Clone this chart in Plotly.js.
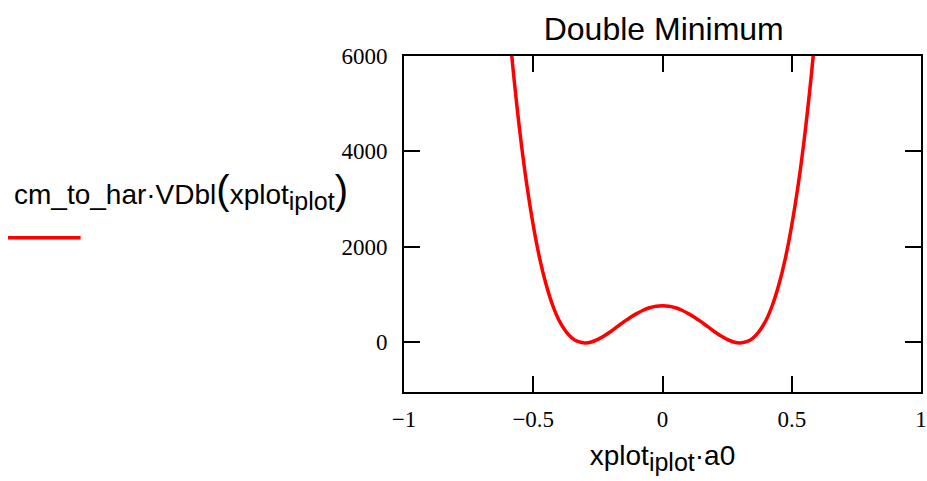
<!DOCTYPE html>
<html>
<head>
<meta charset="utf-8">
<script src="https://cdn.plot.ly/plotly-3.0.1.min.js"></script>
<style>html,body{margin:0;padding:0;background:#fff;}#chart{width:927px;height:481px;}</style>
</head>
<body>
<div id="chart"></div>
<script>
// x values (xplot·a0) and potential values (cm_to_har·VDbl)
var xVals = [-0.6, -0.575, -0.55, -0.525, -0.5, -0.475, -0.45, -0.425, -0.4, -0.375, -0.35, -0.325, -0.3, -0.275, -0.25, -0.225, -0.2, -0.175, -0.15, -0.125, -0.1, -0.075, -0.05, -0.025, 0,
             0.025, 0.05, 0.075, 0.1, 0.125, 0.15, 0.175, 0.2, 0.225, 0.25, 0.275, 0.3, 0.325, 0.35, 0.375, 0.4, 0.425, 0.45, 0.475, 0.5, 0.525, 0.55, 0.575, 0.6];
var vVals = [7000, 5560, 4330, 3300, 2450, 1750, 1200, 770, 450, 230, 80, 5, -20, 0, 55, 130, 220, 320, 420, 515, 595, 665, 718, 750, 760,
             750, 718, 665, 595, 515, 420, 320, 220, 130, 55, 0, -20, 5, 80, 230, 450, 770, 1200, 1750, 2450, 3300, 4330, 5560, 7000];
var xTicks = [-1, -0.5, 0, 0.5, 1];
var yTicks = [0, 2000, 4000, 6000];
var chartTitle = 'Double Minimum';
var xTitle = 'xplot<sub><span style="font-size:25px">iplot</span></sub>·a0';
var seriesName = 'cm_to_har·VDbl<span style="font-size:40px">(</span>xplot<sub><span style="font-size:25px">iplot</span></sub><span style="font-size:40px">)</span>';

var trace = {
  x: xVals, y: vVals, type: 'scatter', mode: 'lines',
  line: {color: '#ff0000', width: 3.5, shape: 'spline', smoothing: 1},
  showlegend: false, hoverinfo: 'skip'
};

var axisCommon = {
  showline: true, linecolor: '#000', linewidth: 2, mirror: 'allticks',
  ticks: 'inside', ticklen: 16, tickwidth: 2, tickcolor: '#000',
  showgrid: false, zeroline: false,
  tickfont: {family: 'Liberation Serif, Times New Roman, serif', size: 23, color: '#000'}
};

var layout = {
  width: 927, height: 481,
  margin: {l: 404, r: 6, t: 56, b: 89, pad: 0},
  paper_bgcolor: '#fff', plot_bgcolor: '#fff',
  title: {text: chartTitle, x: 0.716, xanchor: 'center', y: 0.94, yanchor: 'middle',
          font: {family: 'Liberation Sans, Arial, sans-serif', size: 32, color: '#000'}},
  xaxis: Object.assign({}, axisCommon, {
    range: [-1, 1], tickmode: 'array', tickvals: xTicks, ticklabelstandoff: 5,
    title: {text: xTitle, standoff: 15, font: {family: 'Liberation Sans, Arial, sans-serif', size: 28, color: '#000'}}
  }),
  yaxis: Object.assign({}, axisCommon, {
    range: [-1050, 6000], tickmode: 'array', tickvals: yTicks, ticklabelstandoff: 10
  }),
  annotations: [{
    xref: 'paper', yref: 'paper', x: -0.758, y: 0.598, xanchor: 'left', yanchor: 'middle',
    text: seriesName, showarrow: false,
    font: {family: 'Liberation Sans, Arial, sans-serif', size: 28, color: '#000'}
  }],
  shapes: [{
    type: 'line', xref: 'paper', yref: 'paper',
    x0: -0.766, x1: -0.6255, y0: 0.459, y1: 0.459,
    line: {color: '#ff0000', width: 3.5}
  }]
};

Plotly.newPlot('chart', [trace], layout, {displayModeBar: false, staticPlot: true});
</script>
</body>
</html>
